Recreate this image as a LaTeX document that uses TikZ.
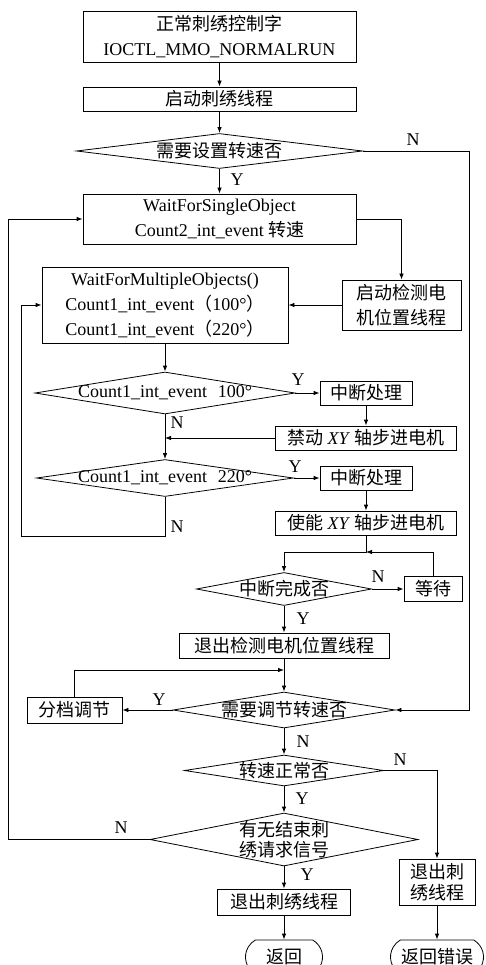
\documentclass[tikz,border=0pt]{standalone}
\usepackage{fontspec}
\setmainfont{Liberation Serif}
\newfontfamily\cjk{Noto Sans CJK SC}
\usetikzlibrary{shapes.geometric,shapes.misc,arrows.meta}
\newcommand\fsA{\fontsize{18}{25}\selectfont}
\newcommand\fsB{\fontsize{18}{20.5}\selectfont}
\begin{document}
\begin{tikzpicture}[x=1pt,y=-1pt,
  base/.style={draw, line width=0.8pt, inner sep=0pt, align=center, font=\fsA},
  box/.style={base, rectangle},
  dia/.style={base, diamond},
  term/.style={base, rounded rectangle, rounded rectangle arc length=120},
  lbl/.style={font=\fsA, inner sep=0pt},
  arr/.style={-{Latex[length=6pt,width=4.5pt]}, line width=0.8pt}]
\clip (0,0) rectangle (485,965);
\fill[white] (0,0) rectangle (485,965);

% boxes
\node[box, minimum width=273, minimum height=51] (b1) at (219.5,36.5) {{\cjk 正常刺绣控制字}\\IOCTL\_MMO\_NORMALRUN};
\node[box, minimum width=273, minimum height=24] (b2) at (219.5,99) {\cjk 启动刺绣线程};
\node[dia, minimum width=286, minimum height=35] (d1) at (219.5,151) {};
\node[lbl] (d1t) at (d1) {\cjk 需要设置转速否};
\node[box, minimum width=273, minimum height=50] (b3) at (219.5,219) {WaitForSingleObject\\Count2\_int\_event {\cjk 转速}};
\node[box, minimum width=119, minimum height=50] (b4) at (401.5,305) {\cjk 启动检测电\\\cjk 机位置线程};
\node[box, minimum width=246, minimum height=76] (b5) at (165,305) {WaitForMultipleObjects()\\Count1\_int\_event{\cjk （}100°{\cjk ）}\\Count1\_int\_event{\cjk （}220°{\cjk ）}};
\node[dia, minimum width=260, minimum height=42] (d2) at (165,393) {};
\node[lbl] (d2t) at (d2) {Count1\_int\_event\hspace{0.6em}100°};
\node[box, minimum width=92, minimum height=24] (b6) at (366,393) {\cjk 中断处理};
\node[box, minimum width=181, minimum height=24] (b7) at (366,438) {{\cjk 禁动} \textit{XY} {\cjk 轴步进电机}};
\node[dia, minimum width=257, minimum height=37] (d3) at (165,478) {};
\node[lbl] (d3t) at (d3) {Count1\_int\_event\hspace{0.6em}220°};
\node[box, minimum width=92, minimum height=24] (b8) at (366,478) {\cjk 中断处理};
\node[box, minimum width=181, minimum height=24] (b9) at (366,523) {{\cjk 使能} \textit{XY} {\cjk 轴步进电机}};
\node[dia, minimum width=175, minimum height=33] (d4) at (284,589) {};
\node[lbl] (d4t) at (d4) {\cjk 中断完成否};
\node[box, minimum width=58, minimum height=25] (w) at (433,589) {\cjk 等待};
\node[box, minimum width=210, minimum height=25] (b10) at (284,645.5) {\cjk 退出检测电机位置线程};
\node[dia, minimum width=222, minimum height=36] (d5) at (284,710) {};
\node[lbl] (d5t) at (d5) {\cjk 需要调节转速否};
\node[box, minimum width=95, minimum height=26] (fd) at (74.5,710) {\cjk 分档调节};
\node[dia, minimum width=199, minimum height=31] (d6) at (284,770.5) {};
\node[lbl] (d6t) at (d6) {\cjk 转速正常否};
\node[dia, minimum width=268, minimum height=53] (d7) at (284,839.5) {};
\node[lbl, align=center, font=\fsB] (d7t) at (d7) {\cjk 有无结束刺\\\cjk 绣请求信号};
\node[box, minimum width=133, minimum height=26] (b13) at (284,902) {\cjk 退出刺绣线程};
\node[box, minimum width=76, minimum height=46, font=\fsB] (b12) at (437,882) {\cjk 退出刺\\\cjk 绣线程};
\node[term, minimum width=77, minimum height=34] (t1) at (284,957) {\cjk 返回};
\node[term, minimum width=93, minimum height=34] (t2) at (437,957) {\cjk 返回错误};

% junctions
\coordinate (j1) at (366,552);
\coordinate (j2) at (284,670);

% connectors
\draw[arr] (b1) -- (b2);
\draw[arr] (b2) -- (d1);
\draw[arr] (d1) -- (b3);
\draw[arr] (d1.east) -- ++(106,0) |- (d5.east);
\draw[arr] (b3.east) -| (b4.north);
\draw[arr] (b4.west) -- (b5.east);
\draw[arr] (b5.south) -- (d2.north);
\draw[arr] (d2.east) -- (b6.west);
\draw[arr] (b6) -- (b7);
\draw[arr] (b7.west) -- (b7.west -| d2.south);
\draw[arr] (d2.south) -- (d3.north);
\draw[arr] (d3.east) -- (b8.west);
\draw[arr] (b8) -- (b9);
\draw[arr] (d3.south) -- ++(0,39.5) -| ([xshift=-20pt]b5.west) -- (b5.west);
\draw[arr] (b9.south) -- (j1) -| (d4.north);
\draw[arr] (w.north) |- (j1);
\draw[arr] (d4.east) -- (w.west);
\draw[arr] (d4.south) -- (b10.north);
\draw[arr] (b10.south) -- (d5.north);
\draw[arr] (d5.west) -- (fd.east);
\draw[arr] (fd.north) |- (j2);
\draw[arr] (d5.south) -- (d6.north);
\draw[arr] (d6.east) -| (b12.north);
\draw[arr] (d6.south) -- (d7.north);
\draw[arr] (d7.west) -- ++(-141,0) |- (b3.west);
\draw[arr] (d7.south) -- (b13.north);
\draw[arr] (b13.south) -- (t1.north);
\draw[arr] (b12.south) -- (t2.north);

% Y/N labels
\node[lbl] (n1) at (413,140) {N};
\node[lbl] (y1) at (237,180) {Y};
\node[lbl] (y2) at (298,380) {Y};
\node[lbl] (n2) at (177,423) {N};
\node[lbl] (y3) at (295,467) {Y};
\node[lbl] (n3) at (177,527) {N};
\node[lbl] (n4) at (378,577) {N};
\node[lbl] (y4) at (303,619) {Y};
\node[lbl] (y5) at (159,700) {Y};
\node[lbl] (n5) at (303,742) {N};
\node[lbl] (n6) at (400,760) {N};
\node[lbl] (y6) at (302,799) {Y};
\node[lbl] (n7) at (121,828) {N};
\node[lbl] (y7) at (307,875) {Y};
\end{tikzpicture}
\end{document}
